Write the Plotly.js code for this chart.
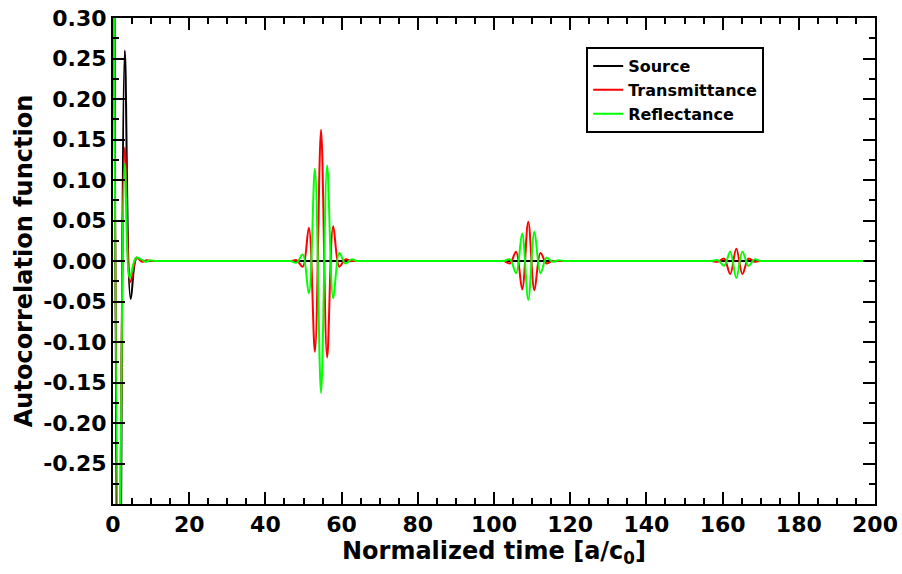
<!DOCTYPE html>
<html>
<head>
<meta charset="utf-8">
<script src="https://cdn.plot.ly/plotly-3.0.1.min.js"></script>
<style>html,body{margin:0;padding:0;background:#fff;}#chart{width:902px;height:574px;}</style>
</head>
<body>
<div id="chart"></div>
<script>
// Source autocorrelation (black)
var sourceT = [0, 1.55, 3.1, 4.65, 6.2, 7.6, 8.4, 199, 200];
var sourceV = [1.0, -0.71, 0.26, -0.047, 0.004, 0, 0, 0, 0];

// Transmittance autocorrelation (red)
var transT = [0, 1.55, 3.1, 4.6, 6.2, 7.6, 8.8, 10, 11, 46, 47,
  48.2, 49.8, 51.4, 53.0, 54.6, 56.2, 57.8, 59.4, 61.0, 62.4, 63.4, 101.6, 102.6,
  104.2, 105.8, 107.4, 109.0, 110.6, 112.2, 113.8, 115.2, 116.2, 156.2, 157.2,
  158.8, 160.4, 162.0, 163.6, 165.2, 166.8, 168.4, 169.8, 170.8, 199, 200];
var transV = [0.6, -0.42, 0.14, -0.026, 0.004, -0.001, 0.001, 0, 0, 0, 0,
  0.001, -0.007, 0.041, -0.112, 0.162, -0.119, 0.043, -0.007, 0.002, 0, 0, 0, 0,
  -0.003, 0.0115, -0.035, 0.0486, -0.036, 0.010, -0.003, 0, 0, 0, 0,
  -0.001, 0.003, -0.016, 0.015, -0.016, 0.003, -0.001, 0, 0, 0, 0];

// Reflectance autocorrelation (green)
var reflT = [0, 1.55, 3.1, 4.4, 6.0, 7.4, 8.6, 9.8, 11, 12, 45.6, 46.6,
  48.2, 49.8, 51.4, 53.0, 54.6, 56.2, 57.8, 59.4, 61.0, 62.6, 64.0, 65.0, 101.6, 102.6,
  104.2, 105.8, 107.4, 109.0, 110.6, 112.2, 113.8, 115.4, 117.0, 118.4, 119.4, 156.2, 157.2,
  158.8, 160.4, 162.0, 163.6, 165.2, 166.8, 168.4, 169.8, 170.8, 199, 200];
var reflV = [0.55, -0.40, 0.12, -0.021, 0.004, 0.002, -0.001, 0.001, 0, 0, 0, 0,
  -0.002, 0.008, -0.040, 0.114, -0.163, 0.118, -0.046, 0.010, -0.003, 0.002, 0, 0, 0, 0,
  0.002, -0.015, 0.034, -0.048, 0.036, -0.015, 0.004, -0.001, 0.001, 0, 0, 0, 0,
  0.001, -0.006, 0.0115, -0.021, 0.0115, -0.006, 0.002, 0, 0, 0, 0];

var seriesNames = ["Source", "Transmittance", "Reflectance"];
var yTickVals = [0.30, 0.25, 0.20, 0.15, 0.10, 0.05, 0.00, -0.05, -0.10, -0.15, -0.20, -0.25];
var yTickText = ["0.30", "0.25", "0.20", "0.15", "0.10", "0.05", "0.00", "-0.05", "-0.10", "-0.15", "-0.20", "-0.25"];
var xTickVals = [0, 20, 40, 60, 80, 100, 120, 140, 160, 180, 200];

var FONT = "DejaVu Sans";

var traces = [
  {x: sourceT, y: sourceV, name: seriesNames[0], type: "scatter", mode: "lines",
   line: {color: "#000000", width: 2, shape: "spline", smoothing: 1}},
  {x: transT, y: transV, name: seriesNames[1], type: "scatter", mode: "lines",
   line: {color: "#ff0000", width: 2, shape: "spline", smoothing: 1}},
  {x: reflT, y: reflV, name: seriesNames[2], type: "scatter", mode: "lines",
   line: {color: "#00ff00", width: 2, shape: "spline", smoothing: 1}}
];

var axisCommon = {
  showline: true, linecolor: "#000", linewidth: 2, mirror: "ticks",
  ticks: "inside", ticklen: 12, tickwidth: 2, tickcolor: "#000",
  showgrid: false, zeroline: false,
  tickfont: {family: FONT, size: 22, weight: "bold", color: "#000"}
};

var layout = {
  width: 902, height: 574,
  margin: {l: 113, r: 27, t: 18, b: 70},
  paper_bgcolor: "#fff", plot_bgcolor: "#fff",
  showlegend: true,
  legend: {
    x: 0.621, y: 0.94, xanchor: "left", yanchor: "top",
    bgcolor: "#fff", bordercolor: "#000", borderwidth: 2,
    font: {family: FONT, size: 16, weight: "bold", color: "#000"},
    itemwidth: 30, tracegroupgap: 0
  },
  xaxis: Object.assign({}, axisCommon, {
    range: [0, 200], tickvals: xTickVals, ticktext: xTickVals.map(String),
    minor: {dtick: 5, ticklen: 6, tickwidth: 2, tickcolor: "#000", ticks: "inside"},
    title: {text: "Normalized time [a/c<sub>0</sub>]", standoff: 4,
            font: {family: FONT, size: 24, weight: "bold", color: "#000"}}
  }),
  yaxis: Object.assign({}, axisCommon, {
    range: [-0.30, 0.30], tickvals: yTickVals, ticktext: yTickText,
    minor: {dtick: 0.025, tick0: 0, ticklen: 6, tickwidth: 2, tickcolor: "#000", ticks: "inside"},
    title: {text: "Autocorrelation function", standoff: 4,
            font: {family: FONT, size: 24, weight: "bold", color: "#000"}}
  })
};

Plotly.newPlot("chart", traces, layout, {displayModeBar: false, staticPlot: true});
</script>
</body>
</html>
